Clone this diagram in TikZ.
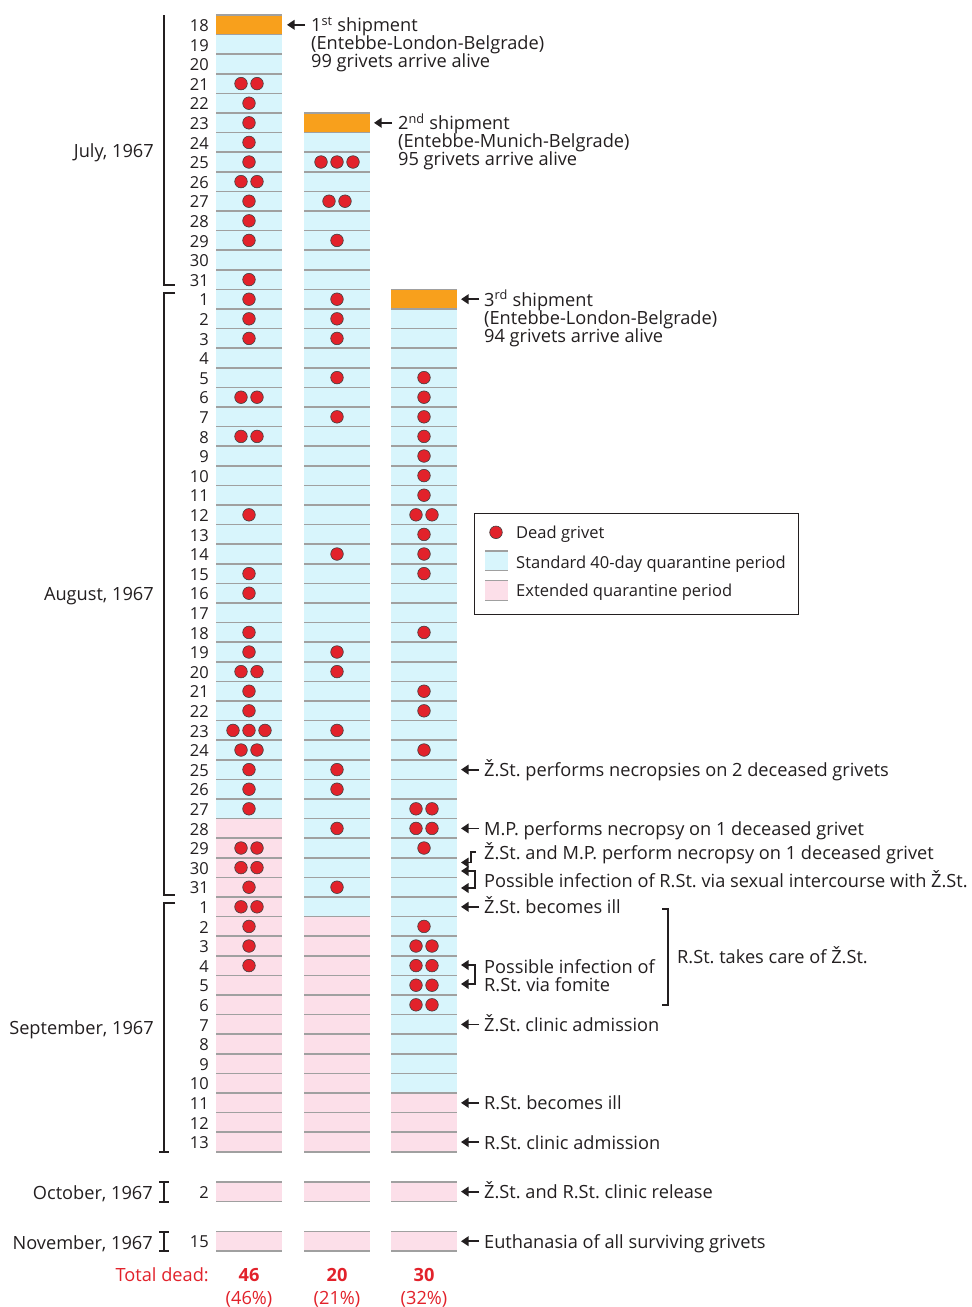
\documentclass[tikz,border=0pt]{standalone}
\usepackage{fontspec}
\setmainfont{Open Sans}
\usetikzlibrary{arrows.meta}
\definecolor{qblue}{HTML}{D8F5FC}
\definecolor{qpink}{HTML}{FCDFE9}
\definecolor{qorange}{HTML}{F8A01C}
\definecolor{qgray}{HTML}{A0A0A0}
\definecolor{qred}{HTML}{E2222B}
\definecolor{qtext}{HTML}{231F20}
\tikzset{
  txt/.style={font=\fontsize{18.2}{18}\selectfont\frenchspacing, text=qtext, inner sep=0pt, text height=16pt, text depth=2pt},
  smalltxt/.style={txt, font=\fontsize{16.5}{18}\selectfont\frenchspacing},
  daylbl/.style={smalltxt, anchor=base east},
  ann/.style={txt, anchor=base west},
  legtxt/.style={smalltxt, anchor=base west},
  monthlbl/.style={txt, anchor=base east},
  annarrow/.style={draw=qtext, line width=1.8pt, -{Triangle[length=7.5pt,width=9.5pt]}},
  bothways/.style={draw=qtext, line width=1.8pt, {Triangle[length=7.5pt,width=9.5pt]}-{Triangle[length=7.5pt,width=9.5pt]}},
  rowline/.style={draw=qgray, line width=1.6pt},
  dot/.style={circle, fill=qred, draw=black!75, line width=0.6pt, minimum size=12.6pt, inner sep=0pt},
  brk/.style={draw=qtext, line width=1.2pt},
  redtxt/.style={txt, text=qred, anchor=base},
}
\begin{document}
\begin{tikzpicture}[x=1pt,y=-1pt]
\useasboundingbox[fill=white] (0,0) rectangle (972,1307);

% ---------- cells ----------
\foreach \xl/\first/\lastblue in {216/0/40, 304/5/45, 391/14/54} {
  \foreach \i in {\first,...,57} {
    \pgfmathsetmacro{\yt}{15+19.6*\i}
    \ifnum\i=\first
      \fill[qorange] (\xl,\yt) rectangle ++(66,19.6);
    \else
      \ifnum\i>\lastblue
        \fill[qpink] (\xl,\yt) rectangle ++(66,19.6);
      \else
        \fill[qblue] (\xl,\yt) rectangle ++(66,19.6);
      \fi
    \fi
  }
  \foreach \i in {\first,...,58} {
    \pgfmathsetmacro{\yt}{15+19.6*\i}
    \draw[rowline] (\xl,\yt) -- ++(66,0);
  }
  % October and November rows
  \fill[qpink] (\xl,1182) rectangle ++(66,19.6);
  \draw[rowline] (\xl,1182) -- ++(66,0);
  \draw[rowline] (\xl,1201.6) -- ++(66,0);
  \fill[qpink] (\xl,1231.4) rectangle ++(66,19.6);
  \draw[rowline] (\xl,1231.4) -- ++(66,0);
  \draw[rowline] (\xl,1251) -- ++(66,0);
}

% ---------- day labels ----------
\foreach \d [count=\i from 0] in {18,...,31} {
  \pgfmathsetmacro{\yb}{24.8+19.6*\i+6.6}
  \node[daylbl] (day-\i) at (209,\yb) {\d};
}
\foreach \d [count=\i from 14] in {1,...,31} {
  \pgfmathsetmacro{\yb}{24.8+19.6*\i+6.6}
  \node[daylbl] (day-\i) at (209,\yb) {\d};
}
\foreach \d [count=\i from 45] in {1,...,13} {
  \pgfmathsetmacro{\yb}{24.8+19.6*\i+6.6}
  \node[daylbl] (day-\i) at (209,\yb) {\d};
}
\node[daylbl] (day-oct) at (209,1198.2) {2};
\node[daylbl] (day-nov) at (209,1247.8) {15};

% ---------- month brackets and labels ----------
\draw[brk] (164,15) -- (164,285) -- (175,285);
\draw[brk] (175,293) -- (164,293) -- (164,895) -- (175,895);
\draw[brk] (175,903) -- (164,903) -- (164,1152);
\draw[brk] (159,1152) -- (169,1152);
\draw[brk] (159,1182) -- (169,1182) (164,1182) -- (164,1202) (159,1202) -- (169,1202);
\draw[brk] (159,1232) -- (169,1232) (164,1232) -- (164,1251) (159,1251) -- (169,1251);
\node[monthlbl] (m-jul) at (154,157) {July, 1967};
\node[monthlbl] (m-aug) at (154,600) {August, 1967};
\node[monthlbl] (m-sep) at (154,1034) {September, 1967};
\node[monthlbl] (m-oct) at (153,1199.5) {October, 1967};
\node[monthlbl] (m-nov) at (153,1249) {November, 1967};

% ---------- dead grivets ----------
\foreach \cx/\r/\n in {
  249/3/2, 249/4/1, 249/5/1, 249/6/1, 249/7/1, 249/8/2, 249/9/1, 249/10/1, 249/11/1, 249/13/1,
  249/14/1, 249/15/1, 249/16/1, 249/19/2, 249/21/2, 249/25/1, 249/28/1, 249/29/1, 249/31/1, 249/32/1,
  249/33/2, 249/34/1, 249/35/1, 249/36/3, 249/37/2, 249/38/1, 249/39/1, 249/40/1, 249/42/2, 249/43/2,
  249/44/1, 249/45/2, 249/46/1, 249/47/1, 249/48/1,
  337/7/3, 337/9/2, 337/11/1,
  337/14/1, 337/15/1, 337/16/1, 337/18/1, 337/20/1, 337/27/1, 337/32/1, 337/33/1, 337/36/1, 337/38/1,
  337/39/1, 337/41/1, 337/44/1,
  424/18/1, 424/19/1, 424/20/1, 424/21/1, 424/22/1, 424/23/1, 424/24/1, 424/25/2, 424/26/1, 424/27/1,
  424/28/1, 424/31/1, 424/34/1, 424/35/1, 424/37/1, 424/40/2, 424/41/2, 424/42/1,
  424/46/1, 424/47/2, 424/48/2, 424/49/2, 424/50/2} {
  \pgfmathsetmacro{\yc}{24.8+19.6*\r}
  \ifcase\n
  \or
    \node[dot] (dot-\cx-\r-a) at (\cx,\yc) {};
  \or
    \node[dot] (dot-\cx-\r-a) at (\cx-8,\yc) {};
    \node[dot] (dot-\cx-\r-b) at (\cx+8,\yc) {};
  \or
    \node[dot] (dot-\cx-\r-a) at (\cx-16,\yc) {};
    \node[dot] (dot-\cx-\r-b) at (\cx,\yc) {};
    \node[dot] (dot-\cx-\r-c) at (\cx+16,\yc) {};
  \fi
}

% ---------- shipments ----------
\node[ann] (s1) at (311,31.8) {1\textsuperscript{st} shipment};
\node[ann] (s1b) at (311,49.8) {(Entebbe-London-Belgrade)};
\node[ann] (s1c) at (311,67.8) {99 grivets arrive alive};
\coordinate (s1-tip) at (287,24.8);
\draw[annarrow] ([xshift=-6pt]s1.west) -- (s1-tip);

\node[ann] (s2) at (398,129.8) {2\textsuperscript{nd} shipment};
\node[ann] (s2b) at (398,147.8) {(Entebbe-Munich-Belgrade)};
\node[ann] (s2c) at (398,165.8) {95 grivets arrive alive};
\coordinate (s2-tip) at (374,122.8);
\draw[annarrow] ([xshift=-6pt]s2.west) -- (s2-tip);

\node[ann] (s3) at (484,306.2) {3\textsuperscript{rd} shipment};
\node[ann] (s3b) at (484,324.2) {(Entebbe-London-Belgrade)};
\node[ann] (s3c) at (484,342.2) {94 grivets arrive alive};
\coordinate (s3-tip) at (461,299.2);
\draw[annarrow] ([xshift=-5pt]s3.west) -- (s3-tip);

% ---------- events ----------
\foreach \nm/\yc/\lbl in {
  e1/769.6/{Ž.St. performs necropsies on 2 deceased grivets},
  e2/828.4/{M.P. performs necropsy on 1 deceased grivet},
  e5/906.8/{Ž.St. becomes ill},
  e7/1024.4/{Ž.St. clinic admission},
  e8/1102.8/{R.St. becomes ill},
  e9/1142/{R.St. clinic admission},
  e10/1191.6/{Ž.St. and R.St. clinic release},
  e11/1241.2/{Euthanasia of all surviving grivets}} {
  \node[ann] (\nm) at (484,\yc+7) {\lbl};
  \coordinate (\nm-tip) at (461,\yc);
  \draw[annarrow] ([xshift=-5pt]\nm.west) -- (\nm-tip);
}

% Z.St. and M.P. necropsy (bent connector)
\node[ann] (e3) at (484,859) {Ž.St. and M.P. perform necropsy on 1 deceased grivet};
\coordinate (e3-tip) at (461,862.5);
\draw[annarrow] ([xshift=-8pt]e3.west) -- ++(-5,0) |- (e3-tip);

% possible infection via sexual intercourse
\node[ann] (e4) at (484,887) {Possible infection of R.St. via sexual intercourse with Ž.St.};
\coordinate (e4-top) at (461,871);
\coordinate (e4-bot) at (461,888);
\draw[bothways] (e4-top) -- ++(14,0) |- (e4-bot);

% possible infection via fomite
\node[ann] (e6) at (484,973) {Possible infection of};
\node[ann] (e6b) at (484,991) {R.St. via fomite};
\coordinate (e6-top) at (461,965);
\coordinate (e6-bot) at (461,984);
\draw[bothways] (e6-top) -- ++(14,0) |- (e6-bot);

% care bracket
\draw[brk] (662,909) -- (668,909) -- (668,1005) -- (662,1005);
\node[ann] (care) at (677,963.5) {R.St. takes care of Ž.St.};

% ---------- legend ----------
\node[draw=qtext, line width=1.2pt, anchor=north west, minimum width=324pt, minimum height=101pt, inner sep=0pt] (legend) at (474,513) {};
\node[dot] (leg-dot) at (496,532.3) {};
\node[legtxt] (leg-t1) at (516,538.8) {Dead grivet};
\fill[qblue] (485,551) rectangle (507.5,570.7);
\draw[rowline, line width=1.2pt] (485,551) -- (507.5,551) (485,570.7) -- (507.5,570.7);
\node[legtxt] (leg-t2) at (516,568) {Standard 40-day quarantine period};
\fill[qpink] (485,580.5) rectangle (507.5,600.3);
\draw[rowline, line width=1.2pt] (485,580.5) -- (507.5,580.5) (485,600.3) -- (507.5,600.3);
\node[legtxt] (leg-t3) at (516,596.8) {Extended quarantine period};

% ---------- totals ----------
\node[txt, text=qred, anchor=base east] (tot) at (209,1281.5) {Total dead:};
\node[redtxt, font=\fontsize{18.2}{18}\selectfont\bfseries] (tot1) at (249,1281.5) {46};
\node[redtxt, font=\fontsize{18.2}{18}\selectfont\bfseries] (tot2) at (337,1281.5) {20};
\node[redtxt, font=\fontsize{18.2}{18}\selectfont\bfseries] (tot3) at (424,1281.5) {30};
\node[redtxt] (pct1) at (249,1304.5) {(46\%)};
\node[redtxt] (pct2) at (337,1304.5) {(21\%)};
\node[redtxt] (pct3) at (424,1304.5) {(32\%)};
\end{tikzpicture}
\end{document}
